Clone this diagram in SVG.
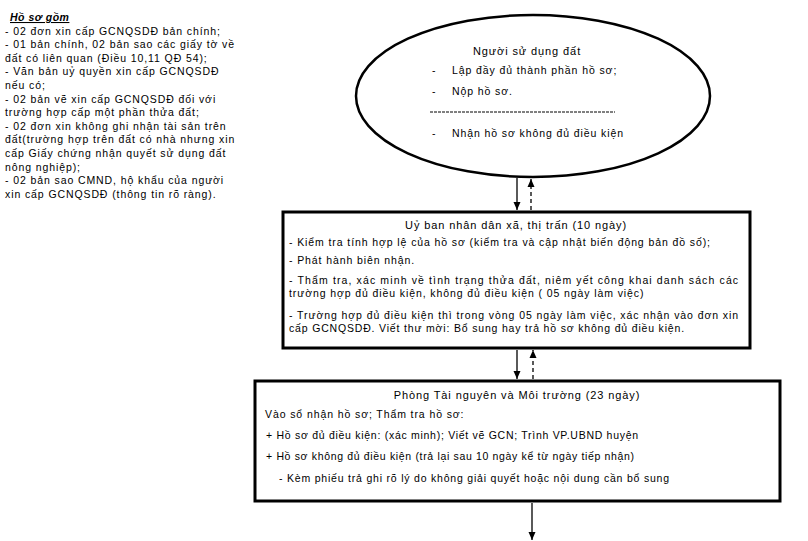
<svg xmlns="http://www.w3.org/2000/svg" width="808" height="541" viewBox="0 0 808 541">
<style>
text{font-family:"Liberation Sans",Arial,sans-serif;font-size:10.5px;letter-spacing:0.9px;fill:#000}
.t{font-size:11px}
.h{font-weight:bold;font-style:italic;text-decoration:underline;letter-spacing:0.5px}
.box{fill:#fff;stroke:#000;stroke-width:3}
.ell{fill:#fff;stroke:#000;stroke-width:2.5}
.c{stroke:#000;stroke-width:1.3;fill:none}
.d{stroke-dasharray:4,3}
</style>
<defs>
<marker id="ah" viewBox="0 0 8 8" refX="8" refY="4" markerWidth="8" markerHeight="8" markerUnits="userSpaceOnUse" orient="auto">
<path d="M0,0.5 L8,4 L0,7.5 Z" fill="#000"/>
</marker>
</defs>
<rect width="808" height="541" fill="#fff"/>
<g id="hoso">
<text class="h" x="10" y="21">Hồ sơ gồm</text>
<text x="5" y="34.6">- 02 đơn xin cấp GCNQSDĐ bản chính;</text>
<text x="5" y="48.2">- 01 bản chính, 02 bản sao các giấy tờ về</text>
<text x="5" y="61.8">đất có liên quan (Điều 10,11 QĐ 54);</text>
<text x="5" y="75.4">- Văn bản uỷ quyền xin cấp GCNQSDĐ</text>
<text x="5" y="89">nếu có;</text>
<text x="5" y="102.6">- 02 bản vẽ xin cấp GCNQSDĐ đối với</text>
<text x="5" y="116.2">trường hợp cấp một phần thửa đất;</text>
<text x="5" y="129.8">- 02 đơn xin không ghi nhận tài sản trên</text>
<text x="5" y="143.4">đất(trường hợp trên đất có nhà nhưng xin</text>
<text x="5" y="157">cấp Giấy chứng nhận quyết sử dụng đất</text>
<text x="5" y="170.6">nông nghiệp);</text>
<text x="5" y="184.2">- 02 bản sao CMND, hộ khẩu của người</text>
<text x="5" y="197.8">xin cấp GCNQSDĐ (thông tin rõ ràng).</text>
</g>
<g id="nguoi">
<ellipse class="ell" cx="533" cy="96" rx="177" ry="81"/>
<text class="t" x="527" y="55" text-anchor="middle">Người sử dụng đất</text>
<text x="432" y="74">-</text>
<text x="452" y="74">Lập đầy đủ thành phần hồ sơ;</text>
<text x="432" y="95">-</text>
<text x="452" y="95">Nộp hồ sơ.</text>
<line x1="430" y1="112" x2="615" y2="112" stroke="#000" stroke-width="1" stroke-dasharray="3,1"/>
<text x="432" y="137">-</text>
<text x="452" y="137">Nhận hồ sơ không đủ điều kiện</text>
</g>
<g id="ubnd">
<rect class="box" x="283" y="212" width="467" height="136"/>
<text class="t" x="516" y="229" text-anchor="middle">Uỷ ban nhân dân xã, thị trấn (10 ngày)</text>
<text x="289" y="246">- Kiểm tra tính hợp lệ của hồ sơ (kiểm tra và cập nhật biến động bản đồ số);</text>
<text x="289" y="264">- Phát hành biên nhận.</text>
<text x="289" y="284" textLength="450" lengthAdjust="spacing">- Thẩm tra, xác minh về tình trạng thửa đất, niêm yết công khai danh sách các</text>
<text x="289" y="297">trường hợp đủ điều kiện, không đủ điều kiện ( 05 ngày làm việc)</text>
<text x="289" y="319" textLength="450" lengthAdjust="spacing">- Trường hợp đủ điều kiện thì trong vòng 05 ngày làm việc, xác nhận vào đơn xin</text>
<text x="289" y="332" textLength="396" lengthAdjust="spacing">cấp GCNQSDĐ. Viết thư mời: Bổ sung hay trả hồ sơ không đủ điều kiện.</text>
</g>
<g id="phong">
<rect class="box" x="255" y="381" width="525" height="120"/>
<text class="t" x="517" y="399" text-anchor="middle">Phòng Tài nguyên và Môi trường (23 ngày)</text>
<text x="265" y="418">Vào sổ nhận hồ sơ;  Thẩm tra hồ sơ:</text>
<text x="266" y="439" textLength="373" lengthAdjust="spacing">+ Hồ sơ đủ điều kiện: (xác minh); Viết vẽ GCN; Trình VP.UBND huyện</text>
<text x="266" y="460" textLength="369" lengthAdjust="spacing">+ Hồ sơ không đủ điều kiện (trả lại sau 10 ngày kể từ ngày tiếp nhận)</text>
<text x="279" y="482" textLength="391" lengthAdjust="spacing">- Kèm phiếu trả ghi rõ lý do không giải quyết hoặc nội dung cần bổ sung</text>
</g>
<g id="connectors">
<line class="c" x1="517" y1="178" x2="517" y2="210" marker-end="url(#ah)"/>
<line class="c d" x1="531" y1="210" x2="531" y2="179" marker-end="url(#ah)"/>
<line class="c" x1="517" y1="350" x2="517" y2="379" marker-end="url(#ah)"/>
<line class="c d" x1="533" y1="379" x2="533" y2="350" marker-end="url(#ah)"/>
<line class="c" x1="532" y1="503" x2="532" y2="540" marker-end="url(#ah)"/>
</g>
</svg>
